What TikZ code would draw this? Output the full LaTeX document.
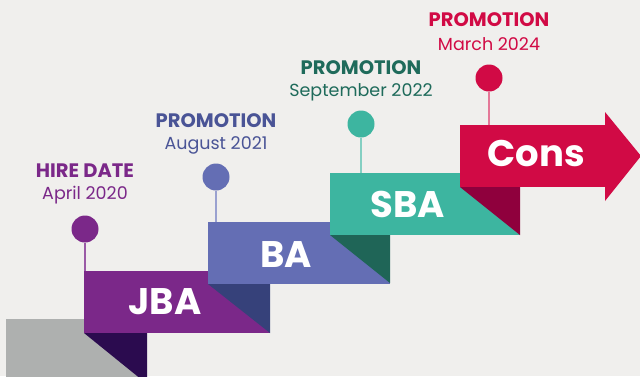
\documentclass[tikz,border=0pt]{standalone}
\usepackage{fontspec}
\setmainfont{Poppins}
\definecolor{bgc}{HTML}{F0EFED}
\definecolor{grayc}{HTML}{AEB0AF}
\definecolor{purc}{HTML}{7B2889}
\definecolor{purd}{HTML}{2B0B4F}
\definecolor{purl}{HTML}{9A5AA6}
\definecolor{bluc}{HTML}{646EB4}
\definecolor{blud}{HTML}{36417A}
\definecolor{blut}{HTML}{4A5496}
\definecolor{blul}{HTML}{9AA1D0}
\definecolor{teac}{HTML}{3DB5A0}
\definecolor{tead}{HTML}{1F6557}
\definecolor{teat}{HTML}{1F6B5B}
\definecolor{teal2}{HTML}{84CFC2}
\definecolor{redc}{HTML}{D10A45}
\definecolor{redd}{HTML}{8F003D}
\definecolor{redl}{HTML}{E47898}
\begin{document}
\begin{tikzpicture}[x=1pt,y=-1pt,
  box/.style={rectangle, inner sep=0pt, outer sep=0pt, anchor=north west, minimum height=62pt},
  dot/.style={circle, inner sep=0pt, minimum size=27pt},
  stem/.style={line width=1.4pt},
  ttl/.style={font=\bfseries\fontsize{19.5}{20}\selectfont, inner sep=0pt},
  dte/.style={font=\fontsize{17.5}{18}\selectfont, inner sep=0pt},
  big/.style={text=white, font=\bfseries\fontsize{37}{37}\selectfont, inner sep=0pt}]
\fill[bgc] (0,0) rectangle (640,376);
\useasboundingbox (0,0) rectangle (640,376);
\begin{scope}
\clip (0,0) rectangle (640,376);
% gray base
\node[box, fill=grayc, minimum width=141pt, minimum height=70pt] (base) at (6,319) {};
% JBA
\node[box, fill=purc, minimum width=186pt] (jba) at (84,271) {};
\fill[purd] (84,333) -- (147,333) -- (147,384) -- cycle;
% BA
\node[box, fill=bluc, minimum width=182pt] (ba) at (208,222) {};
\fill[blud] (208,284) -- (270,284) -- (270,333) -- cycle;
% SBA
\node[box, fill=teac, minimum width=190pt] (sba) at (330,173) {};
\fill[tead] (330,235) -- (390,235) -- (390,283) -- cycle;
% Cons arrow
\node[box, fill=redc, minimum width=146pt] (cons) at (460,125) {};
\fill[redc] (605,112) -- (641,156) -- (605,201) -- cycle;
\fill[redd] (460,187) -- (520,187) -- (520,235) -- cycle;
\end{scope}
% box labels
\node[big] (tjba) at (165,302) {JBA};
\node[big] (tba) at (286,255) {BA};
\node[big] (tsba) at (408,204) {SBA};
\node[big] (tcons) at (536,154) {Cons};
% dots and stems
\node[dot, fill=purc] (d1) at (85,229) {};
\node[dot, fill=bluc] (d2) at (216,177) {};
\node[dot, fill=teac] (d3) at (361,124) {};
\node[dot, fill=redc] (d4) at (489,78) {};
\draw[stem, purl] (d1.south) -- (d1.south |- jba.north);
\draw[stem, blul] (d2.south) -- (d2.south |- ba.north);
\draw[stem, teal2] (d3.south) -- (d3.south |- sba.north);
\draw[stem, redl] (d4.south) -- (d4.south |- cons.north);
% captions
\node[ttl, text=purc] (h1) at (85,171) {HIRE DATE};
\node[dte, text=purc] (s1) at (85,195) {April 2020};
\node[ttl, text=blut] (h2) at (216,121) {PROMOTION};
\node[dte, text=blut] (s2) at (216,145) {August 2021};
\node[ttl, text=teat] (h3) at (361,68) {PROMOTION};
\node[dte, text=teat] (s3) at (361,92) {September 2022};
\node[ttl, text=redc] (h4) at (489,20) {PROMOTION};
\node[dte, text=redc] (s4) at (489,44) {March 2024};
\end{tikzpicture}
\end{document}
